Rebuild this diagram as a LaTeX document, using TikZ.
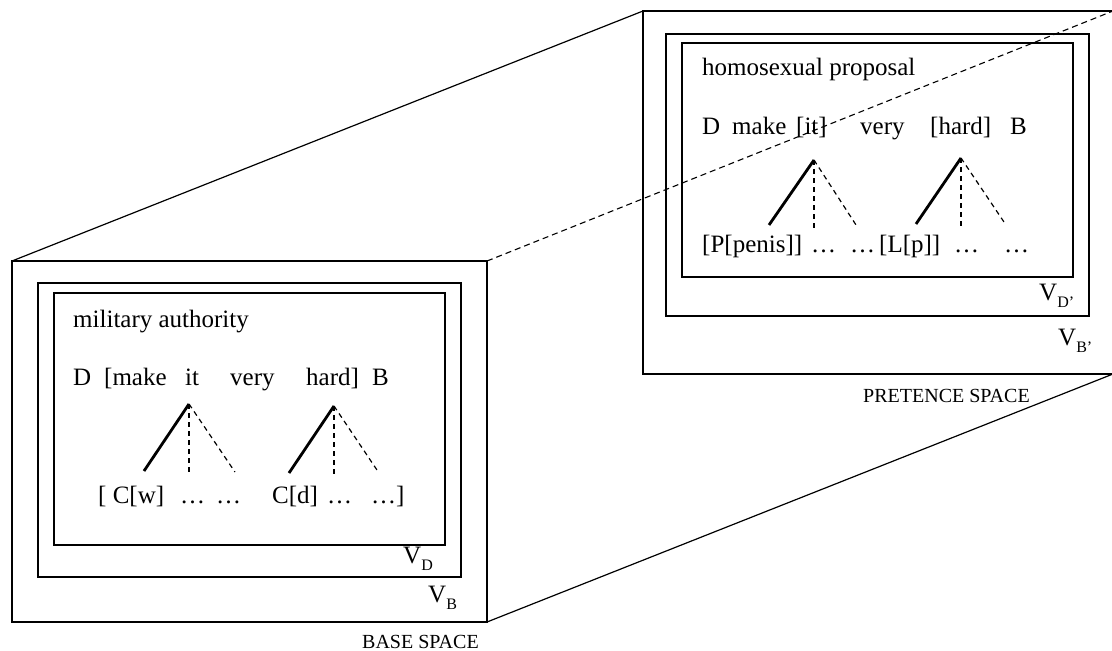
\documentclass[tikz,border=0pt]{standalone}
\usepackage{fontspec}
\setmainfont{Liberation Serif}
\begin{document}
\begin{tikzpicture}[x=1pt,y=-1pt,
  frame/.style={draw, line width=1.8pt},
  edge/.style={line width=1.2pt},
  hidden/.style={line width=1.1pt, dash pattern=on 6pt off 4pt},
  branch/.style={line width=2.8pt},
  twig/.style={line width=1.2pt, dash pattern=on 5pt off 4pt},
  word/.style={anchor=base west, inner sep=0pt, font=\fontsize{25}{29}\selectfont},
  caption/.style={anchor=base west, inner sep=0pt, font=\fontsize{20}{23}\selectfont},
]
\newcommand{\vsub}[1]{V\raisebox{-0.28em}{\fontsize{16}{16}\selectfont #1}}
\useasboundingbox (0,0) rectangle (1112,651);
\fill[white] (0,0) rectangle (1112,651);

% corners of the two spaces
\coordinate (bTL) at (12,261);
\coordinate (bTR) at (487,261);
\coordinate (bBR) at (487,622);
\coordinate (pTL) at (643,11);
\coordinate (pTR) at (1113,11);
\coordinate (pBR) at (1113,374);

% pretence space (behind)
\draw[frame, fill=white] (643,11) rectangle (1113,374);
\draw[frame] (666,34) rectangle (1089,316);
\draw[frame] (682,43) rectangle (1073,277);

% receding edges
\draw[edge] (bTL) -- (pTL);
\draw[edge] (bBR) -- (pBR);
\draw[hidden] (bTR) -- (pTR);

% base space (front)
\draw[frame, fill=white] (bTL) rectangle (bBR);
\draw[frame] (38,283) rectangle (461,577);
\draw[frame] (54,293) rectangle (445,545);

% ---- base space contents
\node[word] (bt) at (73,327) {military authority};
\node[word] (b1) at (73,385) {D};
\node[word] (b2) at (104,385) {[make};
\node[word] (b3) at (185,385) {it};
\node[word] (b4) at (230,385) {very};
\node[word] (b5) at (306,385) {hard]};
\node[word] (b6) at (372,385) {B};
\node[word] (c1) at (98,503) {[ C[w]};
\node[word] (c2) at (180,503) {…};
\node[word] (c3) at (216,503) {…};
\node[word] (c4) at (272,503) {C[d]};
\node[word] (c5) at (327,503) {…};
\node[word] (c6) at (371,503) {…]};

\coordinate (ba1) at (189,404);
\coordinate (bl1) at (144,471);
\coordinate (bm1) at (189,473);
\coordinate (br1) at (235,472);
\draw[branch] (ba1) -- (bl1);
\draw[twig] (ba1) -- (bm1);
\draw[twig] (ba1) -- (br1);
\coordinate (ba2) at (334,406);
\coordinate (bl2) at (289,473);
\coordinate (bm2) at (334,475);
\coordinate (br2) at (379,473);
\draw[branch] (ba2) -- (bl2);
\draw[twig] (ba2) -- (bm2);
\draw[twig] (ba2) -- (br2);

\node[word] (vd) at (403,563) {\vsub{D}};
\node[word] (vb) at (428,602) {\vsub{B}};
\node[caption] (bs) at (362,648) {BASE SPACE};

% ---- pretence space contents
\node[word] (pt) at (702,75) {homosexual proposal};
\node[word] (p1) at (702,134) {D};
\node[word] (p2) at (732,134) {make};
\node[word] (p3) at (796,134) {[it]};
\node[word] (p4) at (860,134) {very};
\node[word] (p5) at (930,134) {[hard]};
\node[word] (p6) at (1010,134) {B};
\node[word] (q1) at (702,252) {[P[penis]]};
\node[word] (q2) at (811,252) {…};
\node[word] (q3) at (850,252) {…};
\node[word] (q4) at (879,252) {[L[p]]};
\node[word] (q5) at (954,252) {…};
\node[word] (q6) at (1004,252) {…};

\coordinate (pa1) at (814,160);
\coordinate (pl1) at (769,225);
\coordinate (pm1) at (814,228);
\coordinate (pr1) at (858,228);
\draw[branch] (pa1) -- (pl1);
\draw[twig] (pa1) -- (pm1);
\draw[twig] (pa1) -- (pr1);
\coordinate (pa2) at (961,158);
\coordinate (pl2) at (916,224);
\coordinate (pm2) at (961,227);
\coordinate (pr2) at (1006,225);
\draw[branch] (pa2) -- (pl2);
\draw[twig] (pa2) -- (pm2);
\draw[twig] (pa2) -- (pr2);

\node[word] (vdp) at (1039,300) {\vsub{D'}};
\node[word] (vbp) at (1058,345) {\vsub{B'}};
\node[caption] (ps) at (863,402) {PRETENCE SPACE};
\end{tikzpicture}
\end{document}
